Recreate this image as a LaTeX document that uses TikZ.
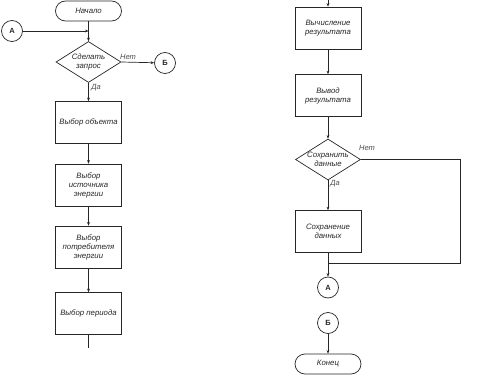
\documentclass[tikz,border=0pt]{standalone}
\usepackage{fontspec}
\setmainfont{Liberation Sans}
\usetikzlibrary{shapes.geometric,arrows.meta}
\begin{document}
\begin{tikzpicture}[x=1pt,y=-1pt,
  every node/.style={font=\fontsize{7.8}{9}\selectfont\itshape, text=black!85},
  box/.style={draw=black!85, line width=0.7pt, minimum width=66pt, minimum height=42pt, align=center, inner sep=1pt},
  term/.style={draw=black!85, line width=0.7pt, rounded corners=10pt, minimum width=66pt, minimum height=20pt, inner sep=1pt},
  dec/.style={draw=black!85, line width=0.7pt, diamond, aspect=1.6, minimum width=65pt, minimum height=41pt, inner sep=0pt, align=center},
  conn/.style={draw=black!85, line width=0.7pt, circle, minimum size=21pt, inner sep=0pt, font=\fontsize{7.5}{8.5}\selectfont\bfseries},
  lbl/.style={font=\fontsize{7.5}{8.5}\selectfont\itshape, text=black!70},
  ln/.style={draw=black!85, line width=0.7pt},
  arr/.style={ln, -{Stealth[length=3.5pt,width=2.8pt]}}
]
\useasboundingbox (0,0) rectangle (480,388);
% left column
\node[term] (start) at (88.5,11) {Начало};
\node[conn] (a1) at (12,31) {А};
\coordinate (j1) at (88.5,31);
\node[dec] (d1) at (88.5,62) {Сделать\\запрос};
\node[conn] (b1) at (165,63) {Б};
\node[box] (s1) at (88.5,122.5) {Выбор объекта};
\node[box] (s2) at (88.5,185) {Выбор\\источника\\энергии};
\node[box] (s3) at (88.5,247) {Выбор\\потребителя\\энергии};
\node[box] (s4) at (88.5,313.5) {Выбор периода};
\coordinate (e1) at (88.5,348);

\draw[ln] (start) -- (j1);
\draw[arr] (a1) -- (j1);
\draw[arr] (j1) -- (d1.north);
\draw[arr] (d1.east) -- (b1);
\draw[arr] (d1.south) -- (s1);
\draw[arr] (s1) -- (s2);
\draw[arr] (s2) -- (s3);
\draw[arr] (s3) -- (s4);
\draw[ln] (s4) -- (e1);
\node[lbl] (no1) at (128,57) {Нет};
\node[lbl] (yes1) at (96,88) {Да};

% right column
\coordinate (t2) at (328,0);
\node[box] (r1) at (328,28) {Вычисление\\результата};
\node[box] (r2) at (328,95.5) {Вывод\\результата};
\node[dec] (d2) at (328,159.5) {Сохранить\\данные};
\node[box] (r3) at (328,231.5) {Сохранение\\данных};
\coordinate (j2) at (328,263);
\coordinate (c2a) at (460,159.5);
\coordinate (c2b) at (460,263);
\node[conn] (a2) at (328,287.5) {А};
\node[conn] (b2) at (328,323) {Б};
\node[term] (end) at (328,364) {Конец};

\draw[arr] (t2) -- (r1);
\draw[arr] (r1) -- (r2);
\draw[arr] (r2) -- (d2.north);
\draw[arr] (d2.south) -- (r3);
\draw[ln] (d2.east) -- (c2a) -- (c2b) -- (j2);
\draw[ln] (r3) -- (j2);
\draw[arr] (j2) -- (a2);
\draw[arr] (b2) -- (end);
\node[lbl] (no2) at (367,148) {Нет};
\node[lbl] (yes2) at (335,184) {Да};
\end{tikzpicture}
\end{document}
